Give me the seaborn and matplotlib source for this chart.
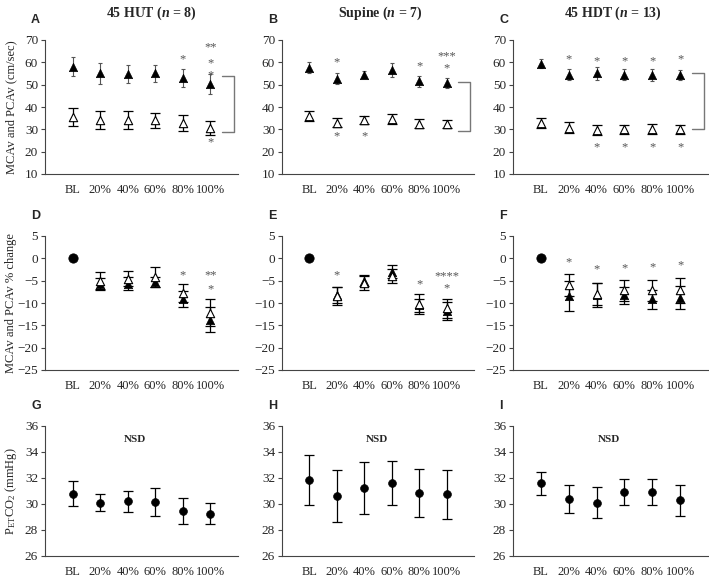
import numpy as np
import matplotlib
matplotlib.use("Agg")
import matplotlib.pyplot as plt
import seaborn as sns

sns.set_style("ticks")
plt.rcParams['font.family'] = ['Liberation Serif', 'DejaVu Serif']
plt.rcParams['mathtext.fontset'] = 'custom'
plt.rcParams['mathtext.rm'] = 'Liberation Serif'
plt.rcParams['mathtext.it'] = 'Liberation Serif:italic'
plt.rcParams['mathtext.bf'] = 'Liberation Serif:bold'
plt.rcParams['mathtext.bfit'] = 'Liberation Serif:bold:italic'

stages = ['BL', '20%', '40%', '60%', '80%', '100%']
titles = [r'45 HUT ($\mathbfit{n}$ = 8)', r'Supine ($\mathbfit{n}$ = 7)', r'45 HDT ($\mathbfit{n}$ = 13)']

# top row: absolute velocities (cm/sec), mean and error
mcav_abs = [[58.0, 55.0, 54.8, 55.0, 53.0, 50.3],
            [57.5, 52.7, 54.5, 56.5, 51.5, 50.7],
            [59.3, 54.5, 55.0, 54.5, 54.3, 54.3]]
mcav_abs_err = [[4.3, 4.5, 4.0, 4.0, 4.0, 4.3],
                [2.5, 2.3, 1.5, 3.2, 2.5, 2.3],
                [2.0, 2.5, 2.7, 2.5, 2.8, 2.3]]
pcav_abs = [[35.5, 34.0, 34.3, 34.0, 32.8, 30.5],
            [36.0, 33.0, 34.0, 34.8, 32.5, 32.2],
            [32.8, 30.8, 29.8, 30.0, 30.0, 30.0]]
pcav_abs_err = [[4.0, 4.0, 4.0, 3.5, 3.7, 3.2],
                [2.3, 2.0, 1.8, 2.2, 2.0, 1.8],
                [2.3, 2.3, 2.3, 2.0, 2.2, 2.0]]

# middle row: % change from baseline (20%..100%)
mcav_pct = [[-5.7, -5.7, -5.3, -9.2, -13.8],
            [-8.2, -5.0, -3.0, -10.5, -11.7],
            [-8.5, -8.2, -8.3, -9.2, -8.8]]
mcav_pct_err = [[1.3, 1.5, 1.2, 1.8, 2.8],
                [1.8, 1.2, 1.5, 1.5, 2.0],
                [3.4, 2.6, 1.9, 2.2, 2.5]]
pcav_pct = [[-5.0, -4.6, -4.2, -7.7, -12.2],
            [-8.5, -5.6, -4.0, -10.2, -11.2],
            [-6.0, -8.0, -7.2, -7.2, -7.2]]
pcav_pct_err = [[1.9, 1.7, 2.2, 2.0, 3.0],
                [2.0, 1.6, 1.6, 2.3, 2.2],
                [2.5, 2.5, 2.3, 2.3, 2.8]]
baseline_pct = 0.0

# bottom row: PETCO2 (mmHg)
petco2 = [[30.8, 30.1, 30.2, 30.15, 29.5, 29.25],
          [31.85, 30.65, 31.25, 31.6, 30.85, 30.75],
          [31.6, 30.4, 30.1, 30.9, 30.9, 30.3]]
petco2_err = [[0.95, 0.65, 0.8, 1.1, 1.0, 0.8],
              [1.9, 2.0, 2.0, 1.7, 1.85, 1.9],
              [0.9, 1.1, 1.2, 1.0, 1.0, 1.2]]

# significance marks: (stage index, y, text)
stars_top = [[(4, 61.5, '*'), (5, 66.5, '**'), (5, 59.5, '*'), (5, 54, '*'), (5, 24, '*')],
             [(1, 60, '*'), (1, 27, '*'), (2, 27, '*'), (4, 58, '*'), (5, 62.5, '***'), (5, 57.5, '*')],
             [(1, 61.5, '*'), (2, 60.5, '*'), (3, 60.5, '*'), (4, 60.5, '*'), (5, 61.5, '*'),
              (2, 22, '*'), (3, 22, '*'), (4, 22, '*'), (5, 22, '*')]]
stars_mid = [[(4, -3.8, '*'), (5, -3.8, '**'), (5, -7.0, '*')],
             [(1, -3.8, '*'), (4, -5.8, '*'), (5, -4.0, '****'), (5, -6.8, '*')],
             [(1, -1.0, '*'), (2, -2.5, '*'), (3, -2.2, '*'), (4, -2.0, '*'), (5, -1.5, '*')]]
brackets = [(54, 29), (51, 29.3), (55, 30)]
letters = ['ABC', 'DEF', 'GHI']
ylabels = ['MCAv and PCAv (cm/sec)', 'MCAv and PCAv % change', r'P$_{\rm ET}$CO$_2$ (mmHg)']
ylims = [(10, 70), (-25, 5), (26, 36)]
yticks = [np.arange(10, 71, 10), np.arange(-25, 6, 5), np.arange(26, 37, 2)]

W, H = 709, 581
fig = plt.figure(figsize=(W / 100, H / 100), dpi=100)
cols_px = [(45, 238), (282, 474), (513, 708)]
rows_px = [(40, 174), (236, 370), (426, 556)]
title_x = [151, 380, 613]
nsd_x = [2.25, 2.45, 2.45]
x = np.arange(len(stages))
grey = '#555555'

for r in range(3):
    for c in range(3):
        l, rt = cols_px[c]
        t, b = rows_px[r]
        ax = fig.add_axes([l / W, 1 - b / H, (rt - l) / W, (b - t) / H])
        if r == 0:
            ax.errorbar(x, mcav_abs[c], yerr=mcav_abs_err[c], fmt='none', ecolor=grey,
                        elinewidth=0.8, capsize=1.5, capthick=0.8)
            ax.errorbar(x, pcav_abs[c], yerr=pcav_abs_err[c], fmt='none', ecolor='black',
                        elinewidth=0.9, capsize=3.5, capthick=0.9)
            sns.scatterplot(x=x, y=mcav_abs[c], marker='^', color='black', s=36,
                            edgecolor='black', linewidth=0.5, ax=ax, zorder=3)
            sns.scatterplot(x=x, y=pcav_abs[c], marker='^', color='white', s=36,
                            edgecolor='black', linewidth=0.8, ax=ax, zorder=3)
            for i, yv, s in stars_top[c]:
                ax.text(i, yv, s, ha='center', va='center', color=grey, fontsize=9)
            y1, y2 = brackets[c]
            ax.plot([5.42, 5.85, 5.85, 5.42], [y1, y1, y2, y2], color='#777777',
                    lw=1.0, clip_on=False)
        elif r == 1:
            xs = x[1:]
            ax.errorbar(xs, pcav_pct[c], yerr=pcav_pct_err[c], fmt='none', ecolor='black',
                        elinewidth=0.9, capsize=3.5, capthick=0.9)
            ax.errorbar(xs, mcav_pct[c], yerr=mcav_pct_err[c], fmt='none', ecolor='black',
                        elinewidth=0.9, capsize=3.5, capthick=0.9)
            sns.scatterplot(x=xs, y=mcav_pct[c], marker='^', color='black', s=36,
                            edgecolor='black', linewidth=0.5, ax=ax, zorder=3)
            sns.scatterplot(x=xs, y=pcav_pct[c], marker='^', color='white', s=36,
                            edgecolor='black', linewidth=0.8, ax=ax, zorder=4)
            sns.scatterplot(x=[0], y=[baseline_pct], marker='o', color='black', s=45,
                            edgecolor='black', ax=ax, zorder=3)
            for i, yv, s in stars_mid[c]:
                ax.text(i, yv, s, ha='center', va='center', color=grey, fontsize=9)
        else:
            ax.errorbar(x, petco2[c], yerr=petco2_err[c], fmt='none', ecolor='black',
                        elinewidth=0.9, capsize=3.5, capthick=0.9)
            sns.scatterplot(x=x, y=petco2[c], marker='o', color='black', s=32,
                            edgecolor='black', ax=ax, zorder=3)
            ax.text(nsd_x[c], 35.0, 'NSD', ha='center', va='center',
                    fontsize=8, fontweight='bold')

        ax.set_xlim(-1, 6)
        ax.set_ylim(*ylims[r])
        ax.set_yticks(yticks[r])
        ax.set_xticks(x)
        ax.set_xticklabels(stages)
        ax.tick_params(axis='x', length=0, labelsize=9, pad=7)
        ax.tick_params(axis='y', length=3, width=0.8, labelsize=9.5, pad=2, color='#444444')
        for side in ['top', 'right']:
            ax.spines[side].set_visible(False)
        for side in ['left', 'bottom']:
            ax.spines[side].set_color('#444444')
            ax.spines[side].set_linewidth(0.8)
        ax.set_xlabel('')
        ax.set_ylabel('')
        fig.text((l - 14) / W, 1 - (t - 20) / H, letters[r][c], fontsize=9,
                 fontweight='bold', family='Liberation Sans', ha='left', va='center')
        if r == 0:
            fig.text(title_x[c] / W, 1 - 13 / H, titles[c], fontsize=10,
                     fontweight='bold', ha='center', va='center')
        if c == 0:
            fig.text(11 / W, 1 - (t + b) / 2 / H, ylabels[r], rotation=90, fontsize=9,
                     ha='center', va='center')

fig.savefig('out.png', dpi=100)
